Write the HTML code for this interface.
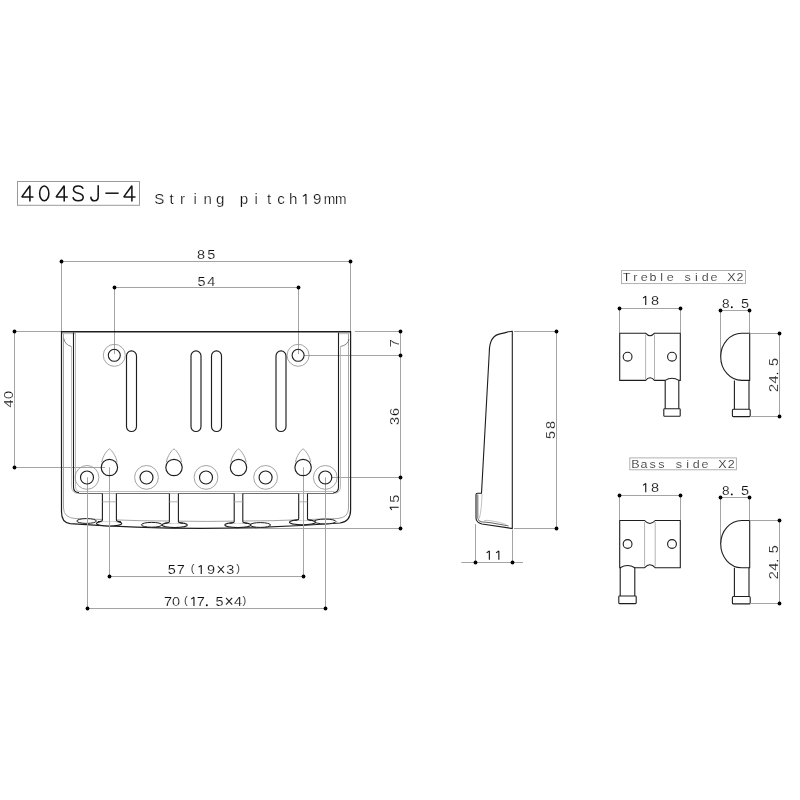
<!DOCTYPE html>
<html><head><meta charset="utf-8"><title>404SJ-4</title>
<style>
html,body{margin:0;padding:0;background:#fff;}
body{width:800px;height:800px;overflow:hidden;}
svg{display:block;font-family:"Liberation Sans",sans-serif;will-change:transform;}
</style></head><body>
<svg width="800" height="800" viewBox="0 0 800 800">
<rect width="800" height="800" fill="#fff"/>
<rect x="17.5" y="181.5" width="122" height="23.8" fill="none" stroke="#9a9a9a" stroke-width="1"/>
<path d="M29.9,201.4 V185.7 L21.8,196.9 H33.5" fill="none" stroke="#151515" stroke-width="1.55" stroke-linecap="butt" stroke-linejoin="bevel"/>
<path d="M64.2,201.4 V185.7 L56.1,196.9 H67.8" fill="none" stroke="#151515" stroke-width="1.55" stroke-linecap="butt" stroke-linejoin="bevel"/>
<path d="M131.9,201.4 V185.7 L123.8,196.9 H135.5" fill="none" stroke="#151515" stroke-width="1.55" stroke-linecap="butt" stroke-linejoin="bevel"/>
<ellipse cx="44.25" cy="193.4" rx="4.6" ry="7.35" fill="none" stroke="#151515" stroke-width="1.55" stroke-linecap="butt" stroke-linejoin="bevel"/>
<path d="M83.1,188.7 C82.3,186.7 80.4,185.9 78.2,185.9 C75.4,185.9 73.5,187.4 73.5,189.5 C73.5,191.8 75.5,192.6 78.3,193.2 C81.3,193.9 83.2,195.1 83.2,197.3 C83.2,199.7 81.1,200.8 78.3,200.8 C75.4,200.8 73.4,199.5 73,197.1" fill="none" stroke="#151515" stroke-width="1.55" stroke-linecap="butt" stroke-linejoin="bevel"/>
<path d="M98.2,185.2 V196.6 C98.2,199.4 96.8,200.8 94.6,200.8 C92.3,200.8 90.9,199.5 90.8,196.6" fill="none" stroke="#151515" stroke-width="1.55" stroke-linecap="butt" stroke-linejoin="bevel"/>
<line x1="105.4" y1="193.2" x2="118.6" y2="193.2" stroke="#151515" stroke-width="1.5"/>
<text transform="translate(159.4 204.3) scale(1.05 1)" font-size="14.4" text-anchor="middle" fill="#111" stroke="#fff" stroke-width="0.2">S</text>
<text transform="translate(171.6 204.3) scale(1.05 1)" font-size="14.4" text-anchor="middle" fill="#111" stroke="#fff" stroke-width="0.2">t</text>
<text transform="translate(182.6 204.3) scale(1.05 1)" font-size="14.4" text-anchor="middle" fill="#111" stroke="#fff" stroke-width="0.2">r</text>
<text transform="translate(195.3 204.3) scale(1.05 1)" font-size="14.4" text-anchor="middle" fill="#111" stroke="#fff" stroke-width="0.2">i</text>
<text transform="translate(207.8 204.3) scale(1.05 1)" font-size="14.4" text-anchor="middle" fill="#111" stroke="#fff" stroke-width="0.2">n</text>
<text transform="translate(220.3 204.3) scale(1.05 1)" font-size="14.4" text-anchor="middle" fill="#111" stroke="#fff" stroke-width="0.2">g</text>
<text transform="translate(244 204.3) scale(1.05 1)" font-size="14.4" text-anchor="middle" fill="#111" stroke="#fff" stroke-width="0.2">p</text>
<text transform="translate(256.1 204.3) scale(1.05 1)" font-size="14.4" text-anchor="middle" fill="#111" stroke="#fff" stroke-width="0.2">i</text>
<text transform="translate(269.1 204.3) scale(1.05 1)" font-size="14.4" text-anchor="middle" fill="#111" stroke="#fff" stroke-width="0.2">t</text>
<text transform="translate(281.1 204.3) scale(1.05 1)" font-size="14.4" text-anchor="middle" fill="#111" stroke="#fff" stroke-width="0.2">c</text>
<text transform="translate(293.1 204.3) scale(1.05 1)" font-size="14.4" text-anchor="middle" fill="#111" stroke="#fff" stroke-width="0.2">h</text>
<path transform="translate(305.1 204.3) scale(1.05 1)" d="M0.82,0 V-10.06 L-2.12,-7.89" fill="none" stroke="#111" stroke-width="1.05" stroke-linejoin="bevel"/>
<text transform="translate(317.1 204.3) scale(1.05 1)" font-size="14.4" text-anchor="middle" fill="#111" stroke="#fff" stroke-width="0.2">9</text>
<text transform="translate(329.5 204.3) scale(0.96 1)" font-size="14.4" text-anchor="middle" fill="#111" stroke="#fff" stroke-width="0.2">m</text>
<text transform="translate(340.8 204.3) scale(0.96 1)" font-size="14.4" text-anchor="middle" fill="#111" stroke="#fff" stroke-width="0.2">m</text>
<line x1="61.6" y1="261.5" x2="350.6" y2="261.5" stroke="#a4a4a4" stroke-width="1.0"/>
<line x1="61.5" y1="261.4" x2="61.5" y2="331" stroke="#a4a4a4" stroke-width="1.0"/>
<line x1="350.5" y1="261.4" x2="350.5" y2="331" stroke="#a4a4a4" stroke-width="1.0"/>
<text transform="translate(201.0 259.1) scale(1.15 1)" font-size="12.6" text-anchor="middle" fill="#111" stroke="#fff" stroke-width="0.15">8</text>
<text transform="translate(211.3 259.1) scale(1.15 1)" font-size="12.6" text-anchor="middle" fill="#111" stroke="#fff" stroke-width="0.15">5</text>
<line x1="114.3" y1="287.5" x2="298.1" y2="287.5" stroke="#a4a4a4" stroke-width="1.0"/>
<line x1="114.5" y1="287.3" x2="114.5" y2="354" stroke="#a4a4a4" stroke-width="1.0"/>
<line x1="298.5" y1="287.3" x2="298.5" y2="354" stroke="#a4a4a4" stroke-width="1.0"/>
<text transform="translate(201.5 285.6) scale(1.15 1)" font-size="12.6" text-anchor="middle" fill="#111" stroke="#fff" stroke-width="0.15">5</text>
<text transform="translate(211.3 285.6) scale(1.15 1)" font-size="12.6" text-anchor="middle" fill="#111" stroke="#fff" stroke-width="0.15">4</text>
<line x1="14.5" y1="331.6" x2="14.5" y2="467.3" stroke="#a4a4a4" stroke-width="1.0"/>
<line x1="14.5" y1="331.5" x2="61" y2="331.5" stroke="#a4a4a4" stroke-width="1.0"/>
<line x1="14.5" y1="467.5" x2="105" y2="467.5" stroke="#a4a4a4" stroke-width="1.0"/>
<text transform="translate(12.9 403.5) rotate(-90) scale(1.15 1)" font-size="12.6" text-anchor="middle" fill="#111" stroke="#fff" stroke-width="0.15">4</text>
<text transform="translate(12.9 394.9) rotate(-90) scale(1.15 1)" font-size="12.6" text-anchor="middle" fill="#111" stroke="#fff" stroke-width="0.15">0</text>
<line x1="400.5" y1="331.4" x2="400.5" y2="528.5" stroke="#a4a4a4" stroke-width="1.0"/>
<line x1="355" y1="331.5" x2="400.3" y2="331.5" stroke="#a4a4a4" stroke-width="1.0"/>
<line x1="304" y1="355.5" x2="400.3" y2="355.5" stroke="#a4a4a4" stroke-width="1.0"/>
<line x1="331" y1="477.5" x2="400.3" y2="477.5" stroke="#a4a4a4" stroke-width="1.0"/>
<line x1="206" y1="528.5" x2="400.3" y2="528.5" stroke="#a4a4a4" stroke-width="1.0"/>
<text transform="translate(398.7 343.3) rotate(-90) scale(1.15 1)" font-size="12.6" text-anchor="middle" fill="#111" stroke="#fff" stroke-width="0.15">7</text>
<text transform="translate(398.7 421.0) rotate(-90) scale(1.15 1)" font-size="12.6" text-anchor="middle" fill="#111" stroke="#fff" stroke-width="0.15">3</text>
<text transform="translate(398.7 411.9) rotate(-90) scale(1.15 1)" font-size="12.6" text-anchor="middle" fill="#111" stroke="#fff" stroke-width="0.15">6</text>
<path transform="translate(398.7 508.0) rotate(-90) scale(1.15 1)" d="M0.65,0 V-8.80 L-1.70,-6.90" fill="none" stroke="#111" stroke-width="0.96" stroke-linejoin="bevel"/>
<text transform="translate(398.7 498.8) rotate(-90) scale(1.15 1)" font-size="12.6" text-anchor="middle" fill="#111" stroke="#fff" stroke-width="0.15">5</text>
<line x1="109.5" y1="467.3" x2="109.5" y2="576.6" stroke="#a4a4a4" stroke-width="1.0"/>
<line x1="303.5" y1="467.3" x2="303.5" y2="576.6" stroke="#a4a4a4" stroke-width="1.0"/>
<line x1="109.4" y1="576.5" x2="303.1" y2="576.5" stroke="#a4a4a4" stroke-width="1.0"/>
<text transform="translate(171.8 574.1) scale(1.15 1)" font-size="12.6" text-anchor="middle" fill="#111" stroke="#fff" stroke-width="0.15">5</text>
<text transform="translate(180.7 574.1) scale(1.15 1)" font-size="12.6" text-anchor="middle" fill="#111" stroke="#fff" stroke-width="0.15">7</text>
<path transform="translate(200.5 574.1) scale(1.15 1)" d="M0.65,0 V-8.80 L-1.70,-6.90" fill="none" stroke="#111" stroke-width="0.96" stroke-linejoin="bevel"/>
<text transform="translate(211.0 574.1) scale(1.15 1)" font-size="12.6" text-anchor="middle" fill="#111" stroke="#fff" stroke-width="0.15">9</text>
<text transform="translate(230.3 574.1) scale(1.15 1)" font-size="12.6" text-anchor="middle" fill="#111" stroke="#fff" stroke-width="0.15">3</text>
<text transform="translate(192.6 572.1) scale(1.0 1)" font-size="11.2" text-anchor="middle" fill="#111" stroke="#fff" stroke-width="0.15">(</text>
<text transform="translate(238.2 572.1) scale(1.0 1)" font-size="11.2" text-anchor="middle" fill="#111" stroke="#fff" stroke-width="0.15">)</text>
<path d="M217.8,566.0 L224.0,572.8 M224.0,566.0 L217.8,572.8" stroke="#222" stroke-width="1.1" fill="none"/>
<line x1="87.5" y1="477.4" x2="87.5" y2="608.6" stroke="#a4a4a4" stroke-width="1.0"/>
<line x1="325.5" y1="477.3" x2="325.5" y2="608.6" stroke="#a4a4a4" stroke-width="1.0"/>
<line x1="87" y1="608.5" x2="325.3" y2="608.5" stroke="#a4a4a4" stroke-width="1.0"/>
<text transform="translate(167.9 606.0) scale(1.15 1)" font-size="12.6" text-anchor="middle" fill="#111" stroke="#fff" stroke-width="0.15">7</text>
<text transform="translate(176.0 606.0) scale(1.15 1)" font-size="12.6" text-anchor="middle" fill="#111" stroke="#fff" stroke-width="0.15">0</text>
<path transform="translate(193.2 606.0) scale(1.15 1)" d="M0.65,0 V-8.80 L-1.70,-6.90" fill="none" stroke="#111" stroke-width="0.96" stroke-linejoin="bevel"/>
<text transform="translate(200.8 606.0) scale(1.15 1)" font-size="12.6" text-anchor="middle" fill="#111" stroke="#fff" stroke-width="0.15">7</text>
<text transform="translate(219.6 606.0) scale(1.15 1)" font-size="12.6" text-anchor="middle" fill="#111" stroke="#fff" stroke-width="0.15">5</text>
<text transform="translate(237.9 606.0) scale(1.15 1)" font-size="12.6" text-anchor="middle" fill="#111" stroke="#fff" stroke-width="0.15">4</text>
<text transform="translate(185.9 604.0) scale(1.0 1)" font-size="11.2" text-anchor="middle" fill="#111" stroke="#fff" stroke-width="0.15">(</text>
<text transform="translate(244.4 604.0) scale(1.0 1)" font-size="11.2" text-anchor="middle" fill="#111" stroke="#fff" stroke-width="0.15">)</text>
<path d="M226.0,597.9 L232.2,604.7 M232.2,597.9 L226.0,604.7" stroke="#222" stroke-width="1.1" fill="none"/>
<path d="M61.5,331.5 H350.6 V510 Q350.6,521.5 340,523 Q206,533.3 70,523.6 Q61.5,522.5 61.5,512 Z" fill="none" stroke="#1e1e1e" stroke-width="1.2"/>
<line x1="61.5" y1="331.7" x2="350.5" y2="331.7" stroke="#1e1e1e" stroke-width="1.5"/>
<path d="M63.5,333.5 V508 Q63.5,518 76,518.6 Q206,524.3 338,518.5 Q348.5,517.5 348.5,508 V333.5" fill="none" stroke="#9a9a9a" stroke-width="0.9"/>
<line x1="62" y1="333.7" x2="75" y2="333.7" stroke="#b4b4b4" stroke-width="0.9"/>
<line x1="338" y1="333.7" x2="349.5" y2="333.7" stroke="#b4b4b4" stroke-width="0.9"/>
<path d="M63.8,338.5 Q65,345 71.5,346.5" fill="none" stroke="#666" stroke-width="0.8"/>
<path d="M349,339 Q348,345 340.5,346.5" fill="none" stroke="#666" stroke-width="0.8"/>
<path d="M71.5,346.5 V486 Q71.5,493.4 78.5,493.4 M334,493.4 Q340.5,493.4 340.5,486 V346.5" fill="none" stroke="#b4b4b4" stroke-width="0.9"/>
<path d="M73.5,332.5 V487 Q73.5,492.5 79,492.5 M333.5,492.5 Q338.5,492.5 338.5,487 V332.5" fill="none" stroke="#1e1e1e" stroke-width="1.1"/>
<path d="M75.5,333 V486 Q75.5,491.5 80,491.5" fill="none" stroke="#b4b4b4" stroke-width="0.9"/>
<line x1="79" y1="491.5" x2="334" y2="491.5" stroke="#bdbdbd" stroke-width="1.0"/>
<line x1="78.5" y1="493.5" x2="334" y2="493.5" stroke="#6e6e6e" stroke-width="1.1"/>
<circle cx="114.3" cy="355.3" r="11" fill="none" stroke="#939393" stroke-width="0.85"/>
<circle cx="114.3" cy="355.3" r="6" fill="none" stroke="#1e1e1e" stroke-width="1.1"/>
<circle cx="298.1" cy="355.3" r="11" fill="none" stroke="#939393" stroke-width="0.85"/>
<circle cx="298.1" cy="355.3" r="6" fill="none" stroke="#1e1e1e" stroke-width="1.1"/>
<rect x="126.5" y="350.9" width="10" height="80.6" rx="5" fill="none" stroke="#1e1e1e" stroke-width="1.15"/>
<rect x="191" y="350.9" width="10" height="80.6" rx="5" fill="none" stroke="#1e1e1e" stroke-width="1.15"/>
<rect x="211.5" y="350.9" width="10" height="80.6" rx="5" fill="none" stroke="#1e1e1e" stroke-width="1.15"/>
<rect x="276" y="350.9" width="10" height="80.6" rx="5" fill="none" stroke="#1e1e1e" stroke-width="1.15"/>
<circle cx="87" cy="477.4" r="11.9" fill="none" stroke="#939393" stroke-width="0.85"/>
<circle cx="87" cy="477.5" r="6.5" fill="none" stroke="#1e1e1e" stroke-width="1.15"/>
<circle cx="146.5" cy="477.4" r="11.9" fill="none" stroke="#939393" stroke-width="0.85"/>
<circle cx="146.5" cy="477.5" r="6.5" fill="none" stroke="#1e1e1e" stroke-width="1.15"/>
<circle cx="206" cy="477.4" r="11.9" fill="none" stroke="#939393" stroke-width="0.85"/>
<circle cx="206" cy="477.5" r="6.5" fill="none" stroke="#1e1e1e" stroke-width="1.15"/>
<circle cx="265.6" cy="477.4" r="11.9" fill="none" stroke="#939393" stroke-width="0.85"/>
<circle cx="265.6" cy="477.5" r="6.5" fill="none" stroke="#1e1e1e" stroke-width="1.15"/>
<circle cx="325.3" cy="477.4" r="11.9" fill="none" stroke="#939393" stroke-width="0.85"/>
<circle cx="325.3" cy="477.5" r="6.5" fill="none" stroke="#1e1e1e" stroke-width="1.15"/>
<path d="M101.7,462.3 C102.8,456 107.0,450.2 109.4,448.9 C111.8,450.2 116.0,456 117.1,462.3" fill="none" stroke="#8a8a8a" stroke-width="0.8"/>
<circle cx="109.4" cy="467.5" r="8.2" fill="none" stroke="#1e1e1e" stroke-width="1.15"/>
<path d="M166.3,462.3 C167.4,456 171.6,450.2 174,448.9 C176.4,450.2 180.6,456 181.7,462.3" fill="none" stroke="#8a8a8a" stroke-width="0.8"/>
<circle cx="174" cy="467.5" r="8.2" fill="none" stroke="#1e1e1e" stroke-width="1.15"/>
<path d="M230.8,462.3 C231.9,456 236.1,450.2 238.5,448.9 C240.9,450.2 245.1,456 246.2,462.3" fill="none" stroke="#8a8a8a" stroke-width="0.8"/>
<circle cx="238.5" cy="467.5" r="8.2" fill="none" stroke="#1e1e1e" stroke-width="1.15"/>
<path d="M295.4,462.3 C296.5,456 300.7,450.2 303.1,448.9 C305.5,450.2 309.7,456 310.8,462.3" fill="none" stroke="#8a8a8a" stroke-width="0.8"/>
<circle cx="303.1" cy="467.5" r="8.2" fill="none" stroke="#1e1e1e" stroke-width="1.15"/>
<ellipse cx="86.6" cy="521.0" rx="9.8" ry="2.4" fill="#fff" stroke="#1e1e1e" stroke-width="1"/>
<ellipse cx="151.7" cy="524.8" rx="10.3" ry="2.4" fill="#fff" stroke="#1e1e1e" stroke-width="1"/>
<ellipse cx="260.3" cy="525.0" rx="10.3" ry="2.4" fill="#fff" stroke="#1e1e1e" stroke-width="1"/>
<ellipse cx="325.0" cy="521.5" rx="11" ry="2.4" fill="#fff" stroke="#1e1e1e" stroke-width="1"/>
<ellipse cx="109.1" cy="523.5" rx="12.7" ry="2.5" fill="#fff" stroke="#1e1e1e" stroke-width="1.1"/>
<path d="M102.4,493.6 V520.0 Q102.4,521.8 98.4,521.8 L120.4,521.8 Q116.4,521.8 116.4,520.0 V493.6 Z" fill="#fff" stroke="none"/>
<path d="M102.4,493.6 V520.0 Q102.4,521.6 97.9,521.6 M116.4,493.6 V520.0 Q116.4,521.6 120.9,521.6" fill="none" stroke="#1e1e1e" stroke-width="1.1"/>
<line x1="102.4" y1="501.8" x2="116.4" y2="501.8" stroke="#a0a0a0" stroke-width="0.8"/>
<ellipse cx="174.7" cy="525.1" rx="12.7" ry="2.5" fill="#fff" stroke="#1e1e1e" stroke-width="1.1"/>
<path d="M169.4,493.6 V521.6 Q169.4,523.4 165.4,523.4 L182.4,523.4 Q178.4,523.4 178.4,521.6 V493.6 Z" fill="#fff" stroke="none"/>
<path d="M169.4,493.6 V521.6 Q169.4,523.2 164.9,523.2 M178.4,493.6 V521.6 Q178.4,523.2 182.9,523.2" fill="none" stroke="#1e1e1e" stroke-width="1.1"/>
<line x1="169.4" y1="501.8" x2="178.4" y2="501.8" stroke="#a0a0a0" stroke-width="0.8"/>
<ellipse cx="237.85" cy="525.1" rx="13.15" ry="2.5" fill="#fff" stroke="#1e1e1e" stroke-width="1.1"/>
<path d="M234.2,493.6 V521.6 Q234.2,523.4 230.2,523.4 L246.8,523.4 Q242.8,523.4 242.8,521.6 V493.6 Z" fill="#fff" stroke="none"/>
<path d="M234.2,493.6 V521.6 Q234.2,523.2 229.7,523.2 M242.8,493.6 V521.6 Q242.8,523.2 247.3,523.2" fill="none" stroke="#1e1e1e" stroke-width="1.1"/>
<line x1="234.2" y1="501.8" x2="242.8" y2="501.8" stroke="#a0a0a0" stroke-width="0.8"/>
<ellipse cx="302.5" cy="522.2" rx="13.1" ry="2.5" fill="#fff" stroke="#1e1e1e" stroke-width="1.1"/>
<path d="M298.7,493.6 V518.7 Q298.7,520.5 294.7,520.5 L311.5,520.5 Q307.5,520.5 307.5,518.7 V493.6 Z" fill="#fff" stroke="none"/>
<path d="M298.7,493.6 V518.7 Q298.7,520.3 294.2,520.3 M307.5,493.6 V518.7 Q307.5,520.3 312.0,520.3" fill="none" stroke="#1e1e1e" stroke-width="1.1"/>
<line x1="298.7" y1="501.8" x2="307.5" y2="501.8" stroke="#a0a0a0" stroke-width="0.8"/>
<line x1="109.5" y1="493" x2="109.5" y2="530" stroke="#a4a4a4" stroke-width="1.0"/>
<line x1="303.5" y1="493" x2="303.5" y2="530" stroke="#a4a4a4" stroke-width="1.0"/>
<line x1="87.5" y1="489" x2="87.5" y2="530" stroke="#a4a4a4" stroke-width="1.0"/>
<line x1="325.5" y1="489" x2="325.5" y2="530" stroke="#a4a4a4" stroke-width="1.0"/>
<path d="M512.3,331.3 V528.5 L482,524 Q476,522.5 476,518 V494.5 Q476,493.3 477.5,493.3 H481.5 L489.3,352 C489.3,339 495,334.5 501,333.6 C506,332.9 508,331.4 512.3,331.3 Z" fill="none" stroke="#1e1e1e" stroke-width="1.1"/>
<path d="M477.8,494.5 V518.3 Q478,521.3 481.8,521.9 L490,522.6 L508.5,525.9" fill="none" stroke="#555" stroke-width="0.9"/>
<path d="M482,494 Q481.8,509 479.3,518.5" fill="none" stroke="#b0b0b0" stroke-width="0.8"/>
<path d="M484,520.6 Q488,519.8 492,521 Q500,522 506,524.5" fill="none" stroke="#aaa" stroke-width="0.7"/>
<line x1="514" y1="331.5" x2="556.4" y2="331.5" stroke="#a4a4a4" stroke-width="1.0"/>
<line x1="514" y1="528.5" x2="556.4" y2="528.5" stroke="#a4a4a4" stroke-width="1.0"/>
<line x1="556.5" y1="331" x2="556.5" y2="528.5" stroke="#a4a4a4" stroke-width="1.0"/>
<text transform="translate(554.9 435.0) rotate(-90) scale(1.15 1)" font-size="12.6" text-anchor="middle" fill="#111" stroke="#fff" stroke-width="0.15">5</text>
<text transform="translate(554.9 424.9) rotate(-90) scale(1.15 1)" font-size="12.6" text-anchor="middle" fill="#111" stroke="#fff" stroke-width="0.15">8</text>
<line x1="475.5" y1="524" x2="475.5" y2="562.4" stroke="#a4a4a4" stroke-width="1.0"/>
<line x1="512.5" y1="530" x2="512.5" y2="562.4" stroke="#a4a4a4" stroke-width="1.0"/>
<line x1="461.4" y1="562.5" x2="523" y2="562.5" stroke="#a4a4a4" stroke-width="1.0"/>
<path transform="translate(488.6 559.75) scale(1.15 1)" d="M0.65,0 V-8.80 L-1.70,-6.90" fill="none" stroke="#111" stroke-width="0.96" stroke-linejoin="bevel"/>
<path transform="translate(498.1 559.75) scale(1.15 1)" d="M0.65,0 V-8.80 L-1.70,-6.90" fill="none" stroke="#111" stroke-width="0.96" stroke-linejoin="bevel"/>
<rect x="621.5" y="270.5" width="124.0" height="13.1" fill="none" stroke="#a8a8a8" stroke-width="0.9"/>
<text transform="translate(626.7 280.9) scale(1.1 1)" font-size="11.4" text-anchor="middle" fill="#111" stroke="#fff" stroke-width="0.2">T</text>
<text transform="translate(635.42 280.9) scale(1.1 1)" font-size="11.4" text-anchor="middle" fill="#111" stroke="#fff" stroke-width="0.2">r</text>
<text transform="translate(644.14 280.9) scale(1.1 1)" font-size="11.4" text-anchor="middle" fill="#111" stroke="#fff" stroke-width="0.2">e</text>
<text transform="translate(652.86 280.9) scale(1.1 1)" font-size="11.4" text-anchor="middle" fill="#111" stroke="#fff" stroke-width="0.2">b</text>
<text transform="translate(661.58 280.9) scale(1.1 1)" font-size="11.4" text-anchor="middle" fill="#111" stroke="#fff" stroke-width="0.2">l</text>
<text transform="translate(670.3 280.9) scale(1.1 1)" font-size="11.4" text-anchor="middle" fill="#111" stroke="#fff" stroke-width="0.2">e</text>
<text transform="translate(687.74 280.9) scale(1.1 1)" font-size="11.4" text-anchor="middle" fill="#111" stroke="#fff" stroke-width="0.2">s</text>
<text transform="translate(696.46 280.9) scale(1.1 1)" font-size="11.4" text-anchor="middle" fill="#111" stroke="#fff" stroke-width="0.2">i</text>
<text transform="translate(705.18 280.9) scale(1.1 1)" font-size="11.4" text-anchor="middle" fill="#111" stroke="#fff" stroke-width="0.2">d</text>
<text transform="translate(713.9 280.9) scale(1.1 1)" font-size="11.4" text-anchor="middle" fill="#111" stroke="#fff" stroke-width="0.2">e</text>
<text transform="translate(731.34 280.9) scale(1.1 1)" font-size="11.4" text-anchor="middle" fill="#111" stroke="#fff" stroke-width="0.2">X</text>
<text transform="translate(740.06 280.9) scale(1.1 1)" font-size="11.4" text-anchor="middle" fill="#111" stroke="#fff" stroke-width="0.2">2</text>
<line x1="619.6" y1="308.5" x2="680.4" y2="308.5" stroke="#a4a4a4" stroke-width="1.0"/>
<line x1="619.5" y1="308.2" x2="619.5" y2="333.2" stroke="#a4a4a4" stroke-width="1.0"/>
<line x1="680.5" y1="308.2" x2="680.5" y2="333.2" stroke="#a4a4a4" stroke-width="1.0"/>
<path transform="translate(645.0 305.0) scale(1.15 1)" d="M0.65,0 V-8.80 L-1.70,-6.90" fill="none" stroke="#111" stroke-width="0.96" stroke-linejoin="bevel"/>
<text transform="translate(655.0 305.0) scale(1.15 1)" font-size="12.6" text-anchor="middle" fill="#111" stroke="#fff" stroke-width="0.15">8</text>
<path d="M619.7,333.2 H645.6 Q650.05,338.4 654.5,333.2 H680.3 V380.4 H678.8 Q672.0,376.0 665.2,380.4 H654.5 Q650.05,375.2 645.6,380.4 H619.7 Z" fill="none" stroke="#1e1e1e" stroke-width="1.1" stroke-linejoin="round"/>
<line x1="645.6" y1="334.5" x2="645.6" y2="379.1" stroke="#a0a0a0" stroke-width="0.8"/>
<line x1="654.5" y1="334.5" x2="654.5" y2="379.1" stroke="#a0a0a0" stroke-width="0.8"/>
<circle cx="627.6" cy="356.7" r="4.4" fill="none" stroke="#1e1e1e" stroke-width="1.1"/>
<circle cx="672" cy="356.7" r="4.4" fill="none" stroke="#1e1e1e" stroke-width="1.1"/>
<path d="M665.2,380.4 V408.7 M678.8,380.4 V408.7" stroke="#1e1e1e" stroke-width="1.1"/>
<rect x="663.8" y="408.7" width="16.4" height="7.6" rx="0.8" fill="none" stroke="#1e1e1e" stroke-width="1.1"/>
<line x1="720.7" y1="310.5" x2="749.5" y2="310.5" stroke="#a4a4a4" stroke-width="1.0"/>
<line x1="720.5" y1="310.8" x2="720.5" y2="356.7" stroke="#a4a4a4" stroke-width="1.0"/>
<line x1="749.5" y1="310.8" x2="749.5" y2="333.2" stroke="#a4a4a4" stroke-width="1.0"/>
<text transform="translate(725.7 307.9) scale(1.08 1)" font-size="12.6" text-anchor="middle" fill="#111" stroke="#fff" stroke-width="0.15">8</text>
<text transform="translate(745.1 307.9) scale(1.15 1)" font-size="12.6" text-anchor="middle" fill="#111" stroke="#fff" stroke-width="0.15">5</text>
<path d="M749.7,333.2 V380.4 H741.7 A21,23.6 0 0 1 741.7,333.2 Z" fill="none" stroke="#1e1e1e" stroke-width="1.1"/>
<path d="M734.4,380.4 V409.2 M749,380.4 V409.2" stroke="#1e1e1e" stroke-width="1.1"/>
<rect x="732.4" y="409.2" width="17.8" height="7.4" rx="1" fill="none" stroke="#1e1e1e" stroke-width="1.1"/>
<line x1="749.7" y1="333.5" x2="779.8" y2="333.5" stroke="#a4a4a4" stroke-width="1.0"/>
<line x1="750" y1="416.5" x2="779.8" y2="416.5" stroke="#a4a4a4" stroke-width="1.0"/>
<line x1="779.5" y1="333.2" x2="779.5" y2="416.5" stroke="#a4a4a4" stroke-width="1.0"/>
<text transform="translate(778.1 388.0) rotate(-90) scale(1.15 1)" font-size="12.6" text-anchor="middle" fill="#111" stroke="#fff" stroke-width="0.15">2</text>
<text transform="translate(778.1 379.5) rotate(-90) scale(1.15 1)" font-size="12.6" text-anchor="middle" fill="#111" stroke="#fff" stroke-width="0.15">4</text>
<text transform="translate(778.1 362.0) rotate(-90) scale(1.15 1)" font-size="12.6" text-anchor="middle" fill="#111" stroke="#fff" stroke-width="0.15">5</text>
<rect x="629.8" y="457.9" width="106.6" height="11.9" fill="none" stroke="#a8a8a8" stroke-width="0.9"/>
<text transform="translate(635.3 468.2) scale(1.1 1)" font-size="11.4" text-anchor="middle" fill="#111" stroke="#fff" stroke-width="0.2">B</text>
<text transform="translate(644.02 468.2) scale(1.1 1)" font-size="11.4" text-anchor="middle" fill="#111" stroke="#fff" stroke-width="0.2">a</text>
<text transform="translate(652.74 468.2) scale(1.1 1)" font-size="11.4" text-anchor="middle" fill="#111" stroke="#fff" stroke-width="0.2">s</text>
<text transform="translate(661.46 468.2) scale(1.1 1)" font-size="11.4" text-anchor="middle" fill="#111" stroke="#fff" stroke-width="0.2">s</text>
<text transform="translate(678.9 468.2) scale(1.1 1)" font-size="11.4" text-anchor="middle" fill="#111" stroke="#fff" stroke-width="0.2">s</text>
<text transform="translate(687.62 468.2) scale(1.1 1)" font-size="11.4" text-anchor="middle" fill="#111" stroke="#fff" stroke-width="0.2">i</text>
<text transform="translate(696.34 468.2) scale(1.1 1)" font-size="11.4" text-anchor="middle" fill="#111" stroke="#fff" stroke-width="0.2">d</text>
<text transform="translate(705.06 468.2) scale(1.1 1)" font-size="11.4" text-anchor="middle" fill="#111" stroke="#fff" stroke-width="0.2">e</text>
<text transform="translate(722.5 468.2) scale(1.1 1)" font-size="11.4" text-anchor="middle" fill="#111" stroke="#fff" stroke-width="0.2">X</text>
<text transform="translate(731.22 468.2) scale(1.1 1)" font-size="11.4" text-anchor="middle" fill="#111" stroke="#fff" stroke-width="0.2">2</text>
<line x1="619.6" y1="495.5" x2="680.4" y2="495.5" stroke="#a4a4a4" stroke-width="1.0"/>
<line x1="619.5" y1="495.1" x2="619.5" y2="520.5" stroke="#a4a4a4" stroke-width="1.0"/>
<line x1="680.5" y1="495.1" x2="680.5" y2="520.5" stroke="#a4a4a4" stroke-width="1.0"/>
<path transform="translate(645.0 492.2) scale(1.15 1)" d="M0.65,0 V-8.80 L-1.70,-6.90" fill="none" stroke="#111" stroke-width="0.96" stroke-linejoin="bevel"/>
<text transform="translate(655.0 492.2) scale(1.15 1)" font-size="12.6" text-anchor="middle" fill="#111" stroke="#fff" stroke-width="0.15">8</text>
<path d="M619.7,520.5 H644.6 Q649.9,526.5 655.2,520.5 H680.3 V567.7 H655.2 Q649.9,561.7 644.6,567.7 H634.8 Q627.5,563.3 620.2,567.7 H619.7 Z" fill="none" stroke="#1e1e1e" stroke-width="1.1" stroke-linejoin="round"/>
<line x1="644.6" y1="522.0" x2="644.6" y2="566.2" stroke="#a0a0a0" stroke-width="0.8"/>
<line x1="655.2" y1="522.0" x2="655.2" y2="566.2" stroke="#a0a0a0" stroke-width="0.8"/>
<circle cx="627.6" cy="544.0" r="4.4" fill="none" stroke="#1e1e1e" stroke-width="1.1"/>
<circle cx="672" cy="544.0" r="4.4" fill="none" stroke="#1e1e1e" stroke-width="1.1"/>
<path d="M620.2,567.7 V596.0 M634.8,567.7 V596.0" stroke="#1e1e1e" stroke-width="1.1"/>
<rect x="618.8" y="596.0" width="17.4" height="7.6" rx="0.8" fill="none" stroke="#1e1e1e" stroke-width="1.1"/>
<line x1="720.7" y1="497.5" x2="749.5" y2="497.5" stroke="#a4a4a4" stroke-width="1.0"/>
<line x1="720.5" y1="497.5" x2="720.5" y2="544.0" stroke="#a4a4a4" stroke-width="1.0"/>
<line x1="749.5" y1="497.5" x2="749.5" y2="520.5" stroke="#a4a4a4" stroke-width="1.0"/>
<text transform="translate(725.7 495.0) scale(1.08 1)" font-size="12.6" text-anchor="middle" fill="#111" stroke="#fff" stroke-width="0.15">8</text>
<text transform="translate(745.1 495.0) scale(1.15 1)" font-size="12.6" text-anchor="middle" fill="#111" stroke="#fff" stroke-width="0.15">5</text>
<path d="M749.7,520.5 V567.7 H741.7 A21,23.6 0 0 1 741.7,520.5 Z" fill="none" stroke="#1e1e1e" stroke-width="1.1"/>
<path d="M734.4,567.7 V596.5 M749,567.7 V596.5" stroke="#1e1e1e" stroke-width="1.1"/>
<rect x="732.4" y="596.5" width="17.8" height="7.4" rx="1" fill="none" stroke="#1e1e1e" stroke-width="1.1"/>
<line x1="749.7" y1="520.5" x2="779.8" y2="520.5" stroke="#a4a4a4" stroke-width="1.0"/>
<line x1="750" y1="603.5" x2="779.8" y2="603.5" stroke="#a4a4a4" stroke-width="1.0"/>
<line x1="779.5" y1="520.5" x2="779.5" y2="603.8" stroke="#a4a4a4" stroke-width="1.0"/>
<text transform="translate(778.1 575.3) rotate(-90) scale(1.15 1)" font-size="12.6" text-anchor="middle" fill="#111" stroke="#fff" stroke-width="0.15">2</text>
<text transform="translate(778.1 566.8) rotate(-90) scale(1.15 1)" font-size="12.6" text-anchor="middle" fill="#111" stroke="#fff" stroke-width="0.15">4</text>
<text transform="translate(778.1 549.3) rotate(-90) scale(1.15 1)" font-size="12.6" text-anchor="middle" fill="#111" stroke="#fff" stroke-width="0.15">5</text>
<circle cx="61.5" cy="261.5" r="1.9" fill="#000"/>
<circle cx="350.5" cy="261.5" r="1.9" fill="#000"/>
<circle cx="114.5" cy="287.5" r="1.9" fill="#000"/>
<circle cx="298.5" cy="287.5" r="1.9" fill="#000"/>
<circle cx="14.5" cy="331.5" r="1.9" fill="#000"/>
<circle cx="14.5" cy="467.5" r="1.9" fill="#000"/>
<circle cx="400.5" cy="331.5" r="1.9" fill="#000"/>
<circle cx="400.5" cy="355.5" r="1.9" fill="#000"/>
<circle cx="400.5" cy="477.5" r="1.9" fill="#000"/>
<circle cx="400.5" cy="528.5" r="1.9" fill="#000"/>
<circle cx="109.5" cy="576.5" r="1.9" fill="#000"/>
<circle cx="303.5" cy="576.5" r="1.9" fill="#000"/>
<circle cx="87.5" cy="608.5" r="1.9" fill="#000"/>
<circle cx="325.5" cy="608.5" r="1.9" fill="#000"/>
<circle cx="206.8" cy="605.2" r="1.0" fill="#000"/>
<circle cx="556.5" cy="331.5" r="1.9" fill="#000"/>
<circle cx="556.5" cy="528.5" r="1.9" fill="#000"/>
<circle cx="475.5" cy="562.5" r="1.9" fill="#000"/>
<circle cx="512.5" cy="562.5" r="1.9" fill="#000"/>
<circle cx="619.5" cy="308.5" r="1.9" fill="#000"/>
<circle cx="680.5" cy="308.5" r="1.9" fill="#000"/>
<circle cx="720.5" cy="310.5" r="1.9" fill="#000"/>
<circle cx="749.5" cy="310.5" r="1.9" fill="#000"/>
<circle cx="731.8" cy="307.3" r="0.95" fill="#000"/>
<circle cx="779.5" cy="333.5" r="1.9" fill="#000"/>
<circle cx="779.5" cy="416.5" r="1.9" fill="#000"/>
<circle cx="777.5" cy="373.4" r="0.75" fill="#000"/>
<circle cx="619.5" cy="495.5" r="1.9" fill="#000"/>
<circle cx="680.5" cy="495.5" r="1.9" fill="#000"/>
<circle cx="720.5" cy="497.5" r="1.9" fill="#000"/>
<circle cx="749.5" cy="497.5" r="1.9" fill="#000"/>
<circle cx="731.8" cy="494.4" r="0.95" fill="#000"/>
<circle cx="779.5" cy="520.5" r="1.9" fill="#000"/>
<circle cx="779.5" cy="603.5" r="1.9" fill="#000"/>
<circle cx="777.5" cy="560.7" r="0.75" fill="#000"/>
</svg>
</body></html>
